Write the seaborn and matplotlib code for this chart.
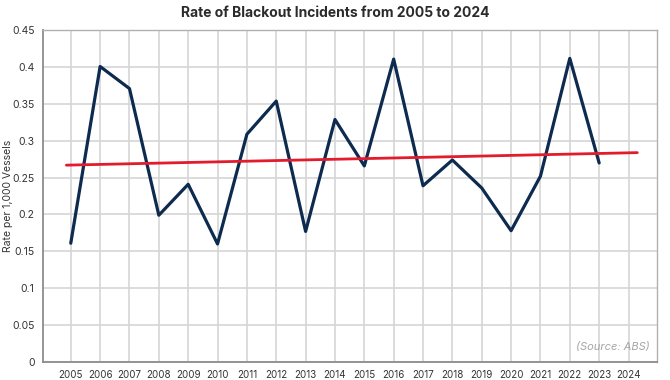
import numpy as np
import pandas as pd
import seaborn as sns
import matplotlib.pyplot as plt

# blackout incident rate per 1,000 vessels
years = list(range(2005, 2024))
rates = [0.161, 0.401, 0.371, 0.199, 0.241, 0.160, 0.309, 0.354, 0.177, 0.329,
         0.266, 0.411, 0.239, 0.274, 0.236, 0.178, 0.252, 0.412, 0.270]

# linear trend line end points
trend_years = [2004.85, 2024.3]
trend_rates = [0.267, 0.284]

tick_years = list(range(2005, 2025))
y_ticks = [0, 0.05, 0.1, 0.15, 0.2, 0.25, 0.3, 0.35, 0.4, 0.45]
y_labels = ['0', '0.05', '0.1', '0.15', '0.2', '0.25', '0.3', '0.35', '0.4', '0.45']

df = pd.DataFrame({'year': years, 'rate': rates})
trend = pd.DataFrame({'year': trend_years, 'rate': trend_rates})

sns.set_style('whitegrid')
plt.rcParams['font.family'] = ['Inter', 'DejaVu Sans']

fig = plt.figure(figsize=(6.7, 3.8), dpi=100)
ax = fig.add_axes([0.064, 0.048, 0.917, 0.872])

sns.lineplot(data=df, x='year', y='rate', color='#0d2a4f', linewidth=2.3, ax=ax)
sns.lineplot(data=trend, x='year', y='rate', color='#e21b2d', linewidth=2.0, ax=ax)

ax.set_xlim(2004.05, 2024.98)
ax.set_ylim(0, 0.45)
ax.set_xticks(tick_years)
ax.set_xticklabels([str(y) for y in tick_years], fontsize=7, color='#333333')
ax.set_yticks(y_ticks)
ax.set_yticklabels(y_labels, fontsize=7.5, color='#333333')
ax.tick_params(axis='both', length=0, pad=6)

ax.grid(True, color='#d6d6d6', linewidth=1.2)
for side in ['top', 'right']:
    ax.spines[side].set_color('#b0b0b0')
    ax.spines[side].set_linewidth(1.0)
for side in ['left', 'bottom']:
    ax.spines[side].set_color('#8c8c8c')
    ax.spines[side].set_linewidth(1.3)

ax.set_xlabel('')
ax.set_ylabel('Rate per 1,000 Vessels', fontsize=7.5, color='#333333')
ax.yaxis.set_label_coords(-0.049, 0.5)

fig.suptitle('Rate of Blackout Incidents from 2005 to 2024', x=0.5, y=0.985,
             fontsize=10, fontweight='bold', color='#2b2b2b')

ax.text(0.988, 0.03, '(Source: ABS)', transform=ax.transAxes, ha='right', va='bottom',
        fontsize=8, fontstyle='italic', color='#a6a6a6')

plt.savefig('out.png', dpi=100)
